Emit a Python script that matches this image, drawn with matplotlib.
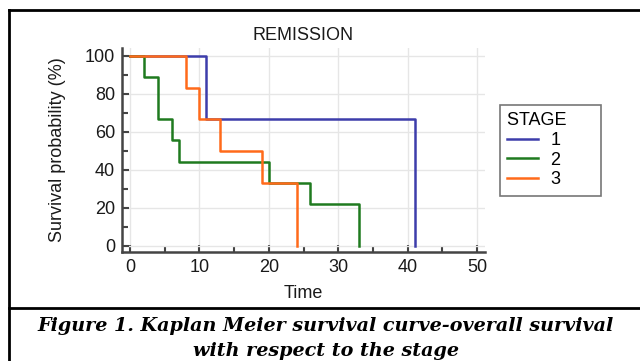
import matplotlib.pyplot as plt
from matplotlib.lines import Line2D

# Kaplan-Meier step data (time, survival %)
stage1_t = [0, 11, 41]
stage1_s = [100, 66.7, 0]
stage2_t = [0, 2, 4, 6, 7, 20, 26, 33]
stage2_s = [100, 88.9, 66.7, 55.6, 44.4, 33.3, 22.2, 0]
stage3_t = [0, 8, 10, 13, 19, 24]
stage3_s = [100, 83.3, 66.7, 50, 33.3, 0]

stages = ['1', '2', '3']
colors = ['#3d3dab', '#1f7a1f', '#ff6a1a']

plt.rcParams['font.family'] = ['Liberation Sans', 'DejaVu Sans']

fig = plt.figure(figsize=(6.4, 3.61), dpi=100)
ax = fig.add_axes([122 / 640, 1 - 252 / 361, 363 / 640, 204 / 361])

for t, s, c, lab in zip([stage1_t, stage2_t, stage3_t],
                        [stage1_s, stage2_s, stage3_s], colors, stages):
    ax.step(t, s, where='post', color=c, lw=1.8, label=lab)

ax.set_xlim(-1.15, 51.15)
ax.set_ylim(-3.2, 104.2)
ax.set_xticks(range(0, 51, 10))
ax.set_xticks(range(5, 51, 10), minor=True)
ax.set_yticks(range(0, 101, 20))
ax.set_yticks(range(10, 101, 20), minor=True)
ax.grid(True, color='#e6e6e6', lw=1)
ax.set_axisbelow(True)
for side in ['top', 'right']:
    ax.spines[side].set_visible(False)
for side in ['left', 'bottom']:
    ax.spines[side].set_color('#444444')
    ax.spines[side].set_linewidth(1.8)
ax.tick_params(which='both', direction='in', color='#444444', width=1.5,
               labelsize=13, labelcolor='#1a1a1a', pad=5)
ax.tick_params(which='major', length=5)
ax.tick_params(which='minor', length=4)

ax.set_title('REMISSION', fontsize=13, pad=6, color='#1a1a1a')
ax.set_xlabel('Time', fontsize=13, color='#1a1a1a', va='center')
ax.set_ylabel('Survival probability (%)', fontsize=13, color='#1a1a1a', va='center')
ax.xaxis.set_label_coords((303 - 122) / 363, -(293 - 252) / 204)
ax.yaxis.set_label_coords(-(122 - 57) / 363, 0.5)

leg = fig.legend(loc='upper left', bbox_to_anchor=(500 / 640, 1 - 105 / 361),
                 title='STAGE' + '\u2003\u2002', fontsize=13, title_fontsize=13,
                 frameon=True, fancybox=False, edgecolor='#555555',
                 handlelength=1.7, borderpad=0.4, labelspacing=0.15,
                 handletextpad=0.7, borderaxespad=0)
leg._legend_box.align = 'left'
leg.get_frame().set_linewidth(1.2)

# frame lines of the figure box and caption separator
fig.add_artist(Line2D([9 / 640, 1], [1 - 10 / 361, 1 - 10 / 361], color='black', lw=2))
fig.add_artist(Line2D([9 / 640, 9 / 640], [0, 1 - 10 / 361], color='black', lw=2))
fig.add_artist(Line2D([9 / 640, 1], [1 - 308 / 361, 1 - 308 / 361], color='black', lw=2))

fig.text(326 / 640, 1 - 326 / 361, 'Figure 1. Kaplan Meier survival curve-overall survival',
         ha='center', va='center', fontsize=13.8, fontweight='bold', style='italic',
         family=['DejaVu Serif'])
fig.text(326 / 640, 1 - 351 / 361, 'with respect to the stage',
         ha='center', va='center', fontsize=13.8, fontweight='bold', style='italic',
         family=['DejaVu Serif'])

fig.savefig('out.png', dpi=100)
